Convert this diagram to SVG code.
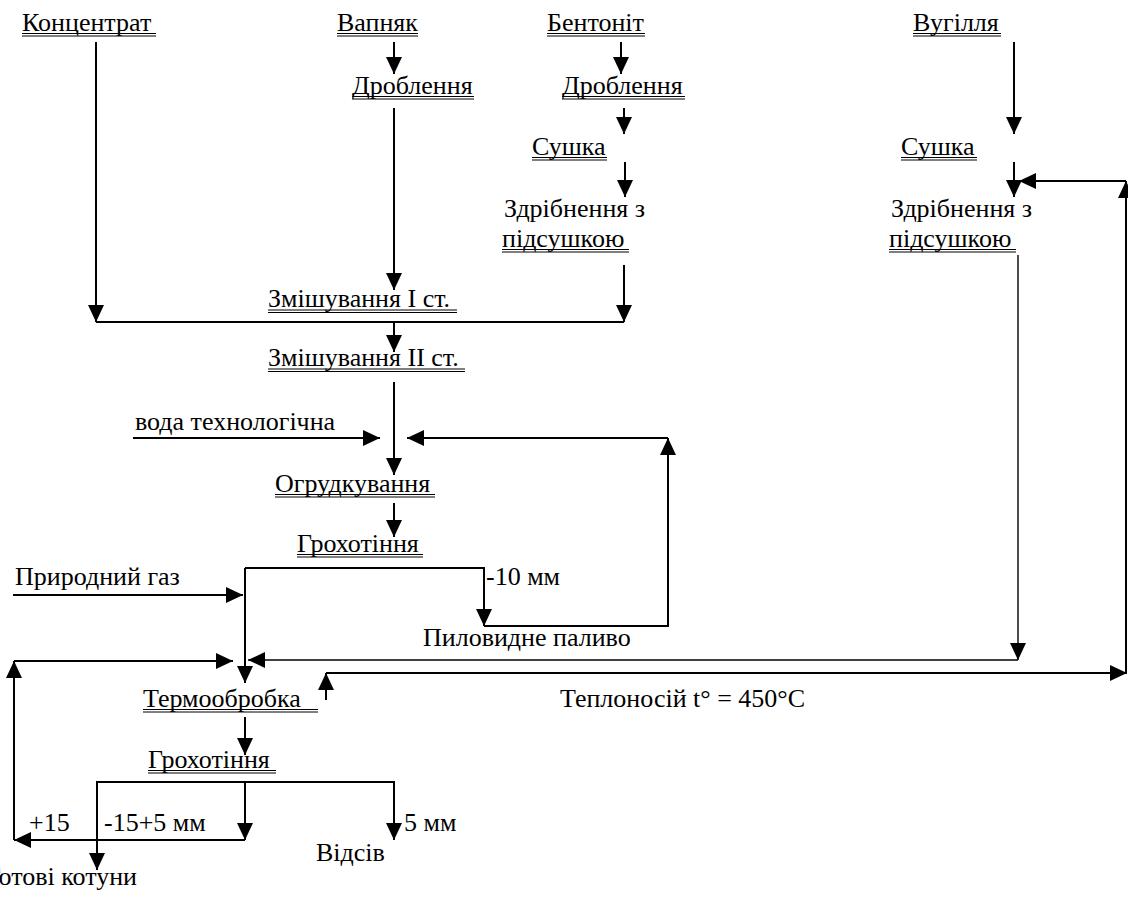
<svg xmlns="http://www.w3.org/2000/svg" width="1128" height="898" viewBox="0 0 1128 898">
<style>
text{font-family:"Liberation Serif","Times New Roman",serif;font-size:26px;fill:#000}
.c{fill:none;stroke:#000;stroke-width:2}
.t{fill:none;stroke:#000;stroke-width:1.4}
.u{stroke:#000;stroke-width:1}
</style>
<defs>
<marker id="a" viewBox="0 0 17 16" refX="17" refY="8" markerWidth="17" markerHeight="16" markerUnits="userSpaceOnUse" orient="auto"><path d="M0,0 L17,8 L0,16 z" fill="#000"/></marker>
</defs>
<rect width="1128" height="898" fill="#fff"/>

<g id="connectors">
<path class="c" d="M96,42 V322" marker-end="url(#a)"/>
<path class="c" d="M96,322 H624"/>
<path class="c" d="M394,42 V74" marker-end="url(#a)"/>
<path class="c" d="M394,108 V290" marker-end="url(#a)"/>
<path class="c" d="M621,42 V74" marker-end="url(#a)"/>
<path class="c" d="M624,108 V134" marker-end="url(#a)"/>
<path class="c" d="M625,162 V197" marker-end="url(#a)"/>
<path class="c" d="M624,265 V322" marker-end="url(#a)"/>
<path class="c" d="M394,322 V352" marker-end="url(#a)"/>
<path class="c" d="M394,382 V475" marker-end="url(#a)"/>
<path class="c" d="M133,438 H380" marker-end="url(#a)"/>
<path class="c" d="M394,503 V537" marker-end="url(#a)"/>
<path class="c" d="M245,568 H484 V626" marker-end="url(#a)"/>
<path class="c" d="M484,626 H668 V438" marker-end="url(#a)"/>
<path class="c" d="M668,438 H407" marker-end="url(#a)"/>
<path class="c" d="M245,568 V683" marker-end="url(#a)"/>
<path class="c" d="M13,595 H243" marker-end="url(#a)"/>
<path class="c" d="M14,840 V661" marker-end="url(#a)"/>
<path class="c" d="M14,661 H233" marker-end="url(#a)"/>
<path class="c" d="M1014,42 V134" marker-end="url(#a)"/>
<path class="c" d="M1014,162 V197" marker-end="url(#a)"/>
<path class="t" d="M1018,255 V660" marker-end="url(#a)"/>
<path class="t" d="M1018,660 H248" marker-end="url(#a)"/>
<path class="c" d="M326,700 V673" marker-end="url(#a)"/>
<path class="c" d="M326,673 H1127" marker-end="url(#a)"/>
<path class="c" d="M1126,673 V181" marker-end="url(#a)"/>
<path class="c" d="M1126,181 H1019" marker-end="url(#a)"/>
<path class="c" d="M245,717 V755" marker-end="url(#a)"/>
<path class="c" d="M245,782 H97 V870" marker-end="url(#a)"/>
<path class="c" d="M245,782 H394 V840" marker-end="url(#a)"/>
<path class="c" d="M245,782 V840" marker-end="url(#a)"/>
<path class="c" d="M245,840 H14" marker-end="url(#a)"/>
</g>

<g id="n-koncentrat"><text x="22" y="31">Концентрат</text><line class="u" x1="22" y1="33.5" x2="156" y2="33.5"/><line class="u" x1="22" y1="36" x2="156" y2="36"/></g>
<g id="n-vapnyak"><text x="337" y="31">Вапняк</text><line class="u" x1="337" y1="33.5" x2="418" y2="33.5"/><line class="u" x1="337" y1="36" x2="418" y2="36"/></g>
<g id="n-bentonit"><text x="547" y="31">Бентоніт</text><line class="u" x1="547" y1="33.5" x2="645" y2="33.5"/><line class="u" x1="547" y1="36" x2="645" y2="36"/></g>
<g id="n-vugillya"><text x="913" y="31">Вугілля</text><line class="u" x1="913" y1="33.5" x2="1001" y2="33.5"/><line class="u" x1="913" y1="36" x2="1001" y2="36"/></g>
<g id="n-drob1"><text x="352" y="94">Дроблення</text><line class="u" x1="352" y1="96.5" x2="474" y2="96.5"/><line class="u" x1="352" y1="99" x2="474" y2="99"/></g>
<g id="n-drob2"><text x="562" y="94">Дроблення</text><line class="u" x1="562" y1="96.5" x2="685" y2="96.5"/><line class="u" x1="562" y1="99" x2="685" y2="99"/></g>
<g id="n-sushka1"><text x="532" y="155">Сушка</text><line class="u" x1="532" y1="157.5" x2="607" y2="157.5"/><line class="u" x1="532" y1="160" x2="607" y2="160"/></g>
<g id="n-sushka2"><text x="901" y="155">Сушка</text><line class="u" x1="901" y1="157.5" x2="977" y2="157.5"/><line class="u" x1="901" y1="160" x2="977" y2="160"/></g>
<g id="n-zdrib1"><text x="504" y="217">Здрібнення з</text><text x="502" y="247">підсушкою</text><line class="u" x1="502" y1="249.5" x2="629" y2="249.5"/><line class="u" x1="502" y1="252" x2="629" y2="252"/></g>
<g id="n-zdrib2"><text x="891" y="217">Здрібнення з</text><text x="889" y="247">підсушкою</text><line class="u" x1="889" y1="249.5" x2="1016" y2="249.5"/><line class="u" x1="889" y1="252" x2="1016" y2="252"/></g>
<g id="n-zmish1"><text x="268" y="307">Змішування I ст.</text><line class="u" x1="268" y1="310" x2="457" y2="310"/><line class="u" x1="268" y1="312.5" x2="457" y2="312.5"/></g>
<g id="n-zmish2"><text x="268" y="366">Змішування II ст.</text><line class="u" x1="268" y1="369" x2="465" y2="369"/><line class="u" x1="268" y1="371.5" x2="465" y2="371.5"/></g>
<g id="n-voda"><text x="135" y="430">вода технологічна</text></g>
<g id="n-ogrud"><text x="275" y="492">Огрудкування</text><line class="u" x1="275" y1="494.5" x2="435" y2="494.5"/><line class="u" x1="275" y1="497" x2="435" y2="497"/></g>
<g id="n-grokh1"><text x="297" y="552">Грохотіння</text><line class="u" x1="297" y1="554.5" x2="423" y2="554.5"/><line class="u" x1="297" y1="557" x2="423" y2="557"/></g>
<g id="n-gaz"><text x="15" y="585">Природний газ</text></g>
<g id="n-m10"><text x="486" y="585">-10 мм</text></g>
<g id="n-palyvo"><text x="423" y="646">Пиловидне паливо</text></g>
<g id="n-termo"><text x="143" y="707">Термообробка</text><line class="u" x1="143" y1="709.5" x2="318" y2="709.5"/><line class="u" x1="143" y1="712" x2="318" y2="712"/></g>
<g id="n-teplo"><text x="560" y="707">Теплоносій t° = 450°C</text></g>
<g id="n-grokh2"><text x="148" y="768">Грохотіння</text><line class="u" x1="148" y1="770.5" x2="276" y2="770.5"/><line class="u" x1="148" y1="773" x2="276" y2="773"/></g>
<g id="n-p15"><text x="29" y="831">+15</text></g>
<g id="n-m15"><text x="104" y="831">-15+5 мм</text></g>
<g id="n-5mm"><text x="404" y="831">5 мм</text></g>
<g id="n-vidsiv"><text x="316" y="861">Відсів</text></g>
<g id="n-gotovi"><text x="137" y="885" text-anchor="end">Готові котуни</text></g>
</svg>
